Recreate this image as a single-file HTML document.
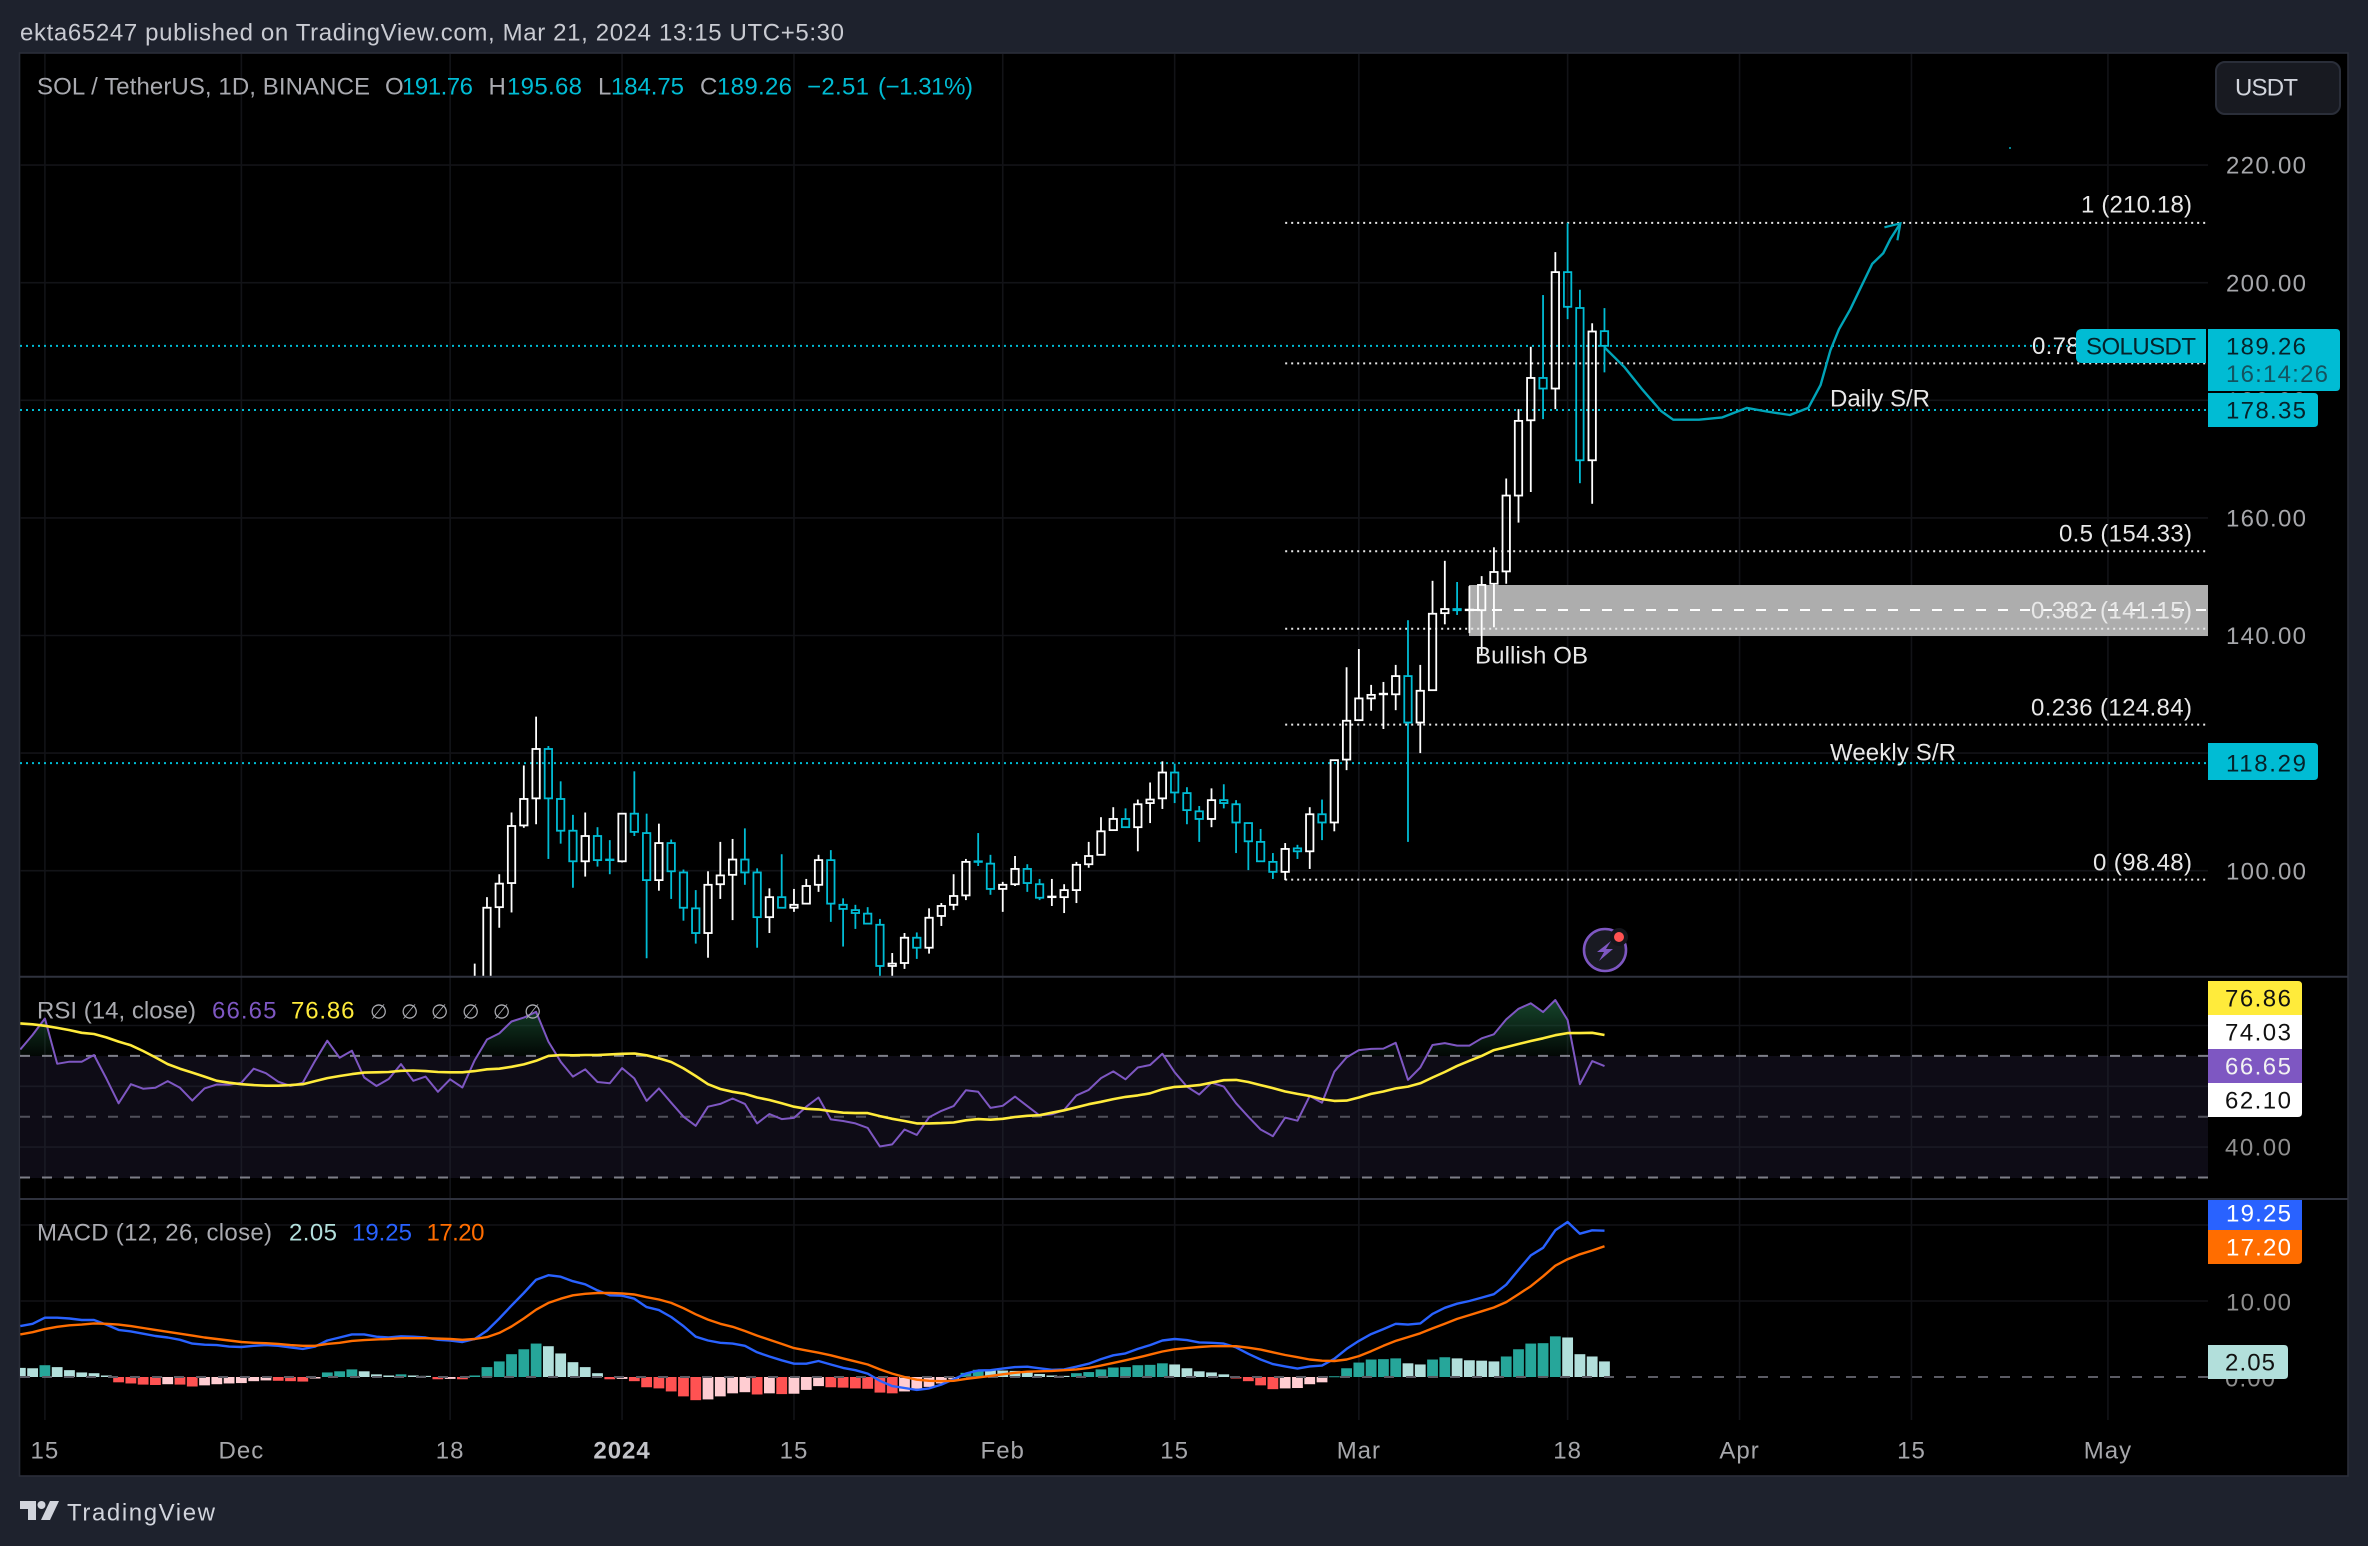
<!DOCTYPE html>
<html lang="en">
<head>
<meta charset="utf-8">
<title>SOL / TetherUS chart</title>
<style>
html,body{margin:0;padding:0;background:#1e222d;}
svg{display:block;}
text{font-family:"Liberation Sans",sans-serif;font-size:24px;}
</style>
</head>
<body>
<svg id="chart" xmlns="http://www.w3.org/2000/svg" width="2368" height="1546" viewBox="0 0 2368 1546">
  <defs>
    <clipPath id="price-clip"><rect x="20" y="54" width="2188" height="922"></rect></clipPath>
    <clipPath id="rsi-clip"><rect x="20" y="978" width="2188" height="220"></rect></clipPath>
    <clipPath id="macd-clip"><rect x="20" y="1200" width="2188" height="220"></rect></clipPath>
    <clipPath id="above-70"><rect x="20" y="978" width="2188" height="78"></rect></clipPath>
    <linearGradient id="ob-fill" gradientUnits="userSpaceOnUse" x1="0" y1="985" x2="0" y2="1056">
      <stop offset="0" stop-color="#1c5a38" stop-opacity="0.95"></stop>
      <stop offset="1" stop-color="#1c5a38" stop-opacity="0.08"></stop>
    </linearGradient>
  </defs>
  <rect x="0" y="0" width="2368" height="1546" fill="#1e222d"></rect>
  <rect x="19.5" y="53" width="2328.5" height="1423" fill="#000" stroke="#2a2e39" stroke-width="1.6"></rect>
  <text x="20" y="40.5" fill="#c9cbd2" textLength="824">ekta65247 published on TradingView.com, Mar 21, 2024 13:15 UTC+5:30</text>

  <g id="grid"></g>
  <rect x="20" y="1056" width="2188" height="122" fill="#0e0c16"></rect>
  <g id="grid-rsi"></g>
  <rect x="1469" y="585" width="739" height="51" fill="#adadad"></rect>
  <g id="levels"></g>
  <g id="candles" clip-path="url(#price-clip)"></g>
  <line x1="1470" y1="610" x2="2208" y2="610" stroke="#fff" stroke-width="2" stroke-dasharray="10 12"></line>
  <polyline id="projection" fill="none" stroke="#00a4b8" stroke-width="2.4" stroke-linejoin="round"></polyline>
  <polyline id="projection-head" fill="none" stroke="#00a4b8" stroke-width="2.2"></polyline>
  <rect x="2009" y="147" width="2" height="2" fill="#00808f"></rect>

  <text x="37" y="94.3" fill="#a9aab0" textLength="333">SOL / TetherUS, 1D, BINANCE</text>
  <text x="385" y="94.3" fill="#a9aab0">O</text>
  <text x="402" y="94.3" fill="#00bcd4" textLength="71">191.76</text>
  <text x="488.5" y="94.3" fill="#a9aab0">H</text>
  <text x="507" y="94.3" fill="#00bcd4" textLength="75">195.68</text>
  <text x="598" y="94.3" fill="#a9aab0">L</text>
  <text x="611" y="94.3" fill="#00bcd4" textLength="73">184.75</text>
  <text x="700" y="94.3" fill="#a9aab0">C</text>
  <text x="717" y="94.3" fill="#00bcd4" textLength="75">189.26</text>
  <text x="807" y="94.3" fill="#00bcd4" textLength="62">−2.51</text>
  <text x="878" y="94.3" fill="#00bcd4" textLength="95">(−1.31%)</text>

  <g>
    <rect x="2216" y="62" width="124" height="52" rx="9" fill="#181a21" stroke="#2a2e39" stroke-width="2"></rect>
    <text x="2235" y="95.6" fill="#d1d4dc" textLength="63">USDT</text>
  </g>

  <text x="1830" y="406.3" fill="#e8e8e8" textLength="100">Daily S/R</text>
  <text x="1830" y="760.6" fill="#e8e8e8" textLength="126">Weekly S/R</text>
  <text x="1475" y="663.6" fill="#e8e8e8" textLength="113">Bullish OB</text>
  <text x="2081" y="212.6" fill="#e8e8e8" textLength="111">1 (210.18)</text>
  <text x="2032" y="353.9" fill="#e8e8e8" textLength="160">0.786 (186.28)</text>
  <text x="2059" y="541.6" fill="#e8e8e8" textLength="133">0.5 (154.33)</text>
  <text x="2031" y="618.6" fill="#e8e8e8" textLength="161">0.382 (141.15)</text>
  <text x="2031" y="715.6" fill="#e8e8e8" textLength="161">0.236 (124.84)</text>
  <text x="2093" y="870.6" fill="#e8e8e8" textLength="99">0 (98.48)</text>

  <g id="price-axis"></g>
  <g>
    <path d="M2082 329H2206V363H2082Q2076 363 2076 357V335Q2076 329 2082 329Z" fill="#00bcd4"></path>
    <text x="2086" y="354.4" fill="#06222a" textLength="110">SOLUSDT</text>
    <path d="M2208 329H2336Q2340 329 2340 333V387Q2340 391 2336 391H2208Z" fill="#00bcd4"></path>
    <text x="2226" y="354.4" fill="#06222a" textLength="80">189.26</text>
    <text x="2226" y="382" fill="#14535f" textLength="102">16:14:26</text>
    <path d="M2208 393H2314Q2318 393 2318 397V423Q2318 427 2314 427H2208Z" fill="#00bcd4"></path>
    <text x="2226" y="418.4" fill="#06222a" textLength="80">178.35</text>
    <path d="M2208 743H2314Q2318 743 2318 747V776Q2318 780 2314 780H2208Z" fill="#00bcd4"></path>
    <text x="2226" y="771.6" fill="#06222a" textLength="80">118.29</text>
  </g>

  <g>
    <circle cx="1605" cy="950" r="21" fill="#191a22" stroke="#7e57c2" stroke-width="2.6"></circle>
    <polygon points="1611,941 1597,952 1604,952 1599,961 1613,949 1606,949" fill="#7e57c2"></polygon>
    <circle cx="1619" cy="937" r="9" fill="#14151b"></circle>
    <circle cx="1619" cy="937" r="5" fill="#ff5252"></circle>
  </g>

  <line x1="20" y1="976.7" x2="2348" y2="976.7" stroke="#2f323e" stroke-width="2"></line>
  <line x1="20" y1="1199" x2="2348" y2="1199" stroke="#2f323e" stroke-width="2"></line>

  <g id="rsi-pane"></g>
  <text x="37" y="1018.6" fill="#a9aab0" textLength="159">RSI (14, close)</text>
  <text x="212" y="1018.6" fill="#7e57c2" textLength="64.5">66.65</text>
  <text x="291" y="1018.6" fill="#ffeb3b" textLength="63.5">76.86</text>
  <g fill="#a9aab0">
    <text x="370" y="1018.6" style="font-family:'DejaVu Sans',sans-serif;font-size:20px">∅</text>
    <text x="401" y="1018.6" style="font-family:'DejaVu Sans',sans-serif;font-size:20px">∅</text>
    <text x="431" y="1018.6" style="font-family:'DejaVu Sans',sans-serif;font-size:20px">∅</text>
    <text x="462" y="1018.6" style="font-family:'DejaVu Sans',sans-serif;font-size:20px">∅</text>
    <text x="493" y="1018.6" style="font-family:'DejaVu Sans',sans-serif;font-size:20px">∅</text>
    <text x="524" y="1018.6" style="font-family:'DejaVu Sans',sans-serif;font-size:20px">∅</text>
  </g>
  <g>
    <text x="2225" y="1155.6" fill="#8f8f8f" textLength="66">40.00</text>
    <path d="M2208 981H2298Q2302 981 2302 985V1015H2208Z" fill="#ffeb3b"></path>
    <text x="2225" y="1006.6" fill="#111" textLength="66">76.86</text>
    <rect x="2208" y="1015" width="94" height="34" fill="#fff"></rect>
    <text x="2225" y="1040.6" fill="#111" textLength="66">74.03</text>
    <path d="M2208 1049H2302V1083H2208Z" fill="#7e57c2"></path>
    <text x="2225" y="1074.6" fill="#f2f2f2" textLength="66">66.65</text>
    <path d="M2208 1083H2302V1113Q2302 1117 2298 1117H2208Z" fill="#fff"></path>
    <text x="2225" y="1108.6" fill="#111" textLength="66">62.10</text>
  </g>

  <g id="macd-pane"></g>
  <text x="37" y="1240.3" fill="#a9aab0" textLength="235">MACD (12, 26, close)</text>
  <text x="289" y="1240.3" fill="#b2dfdb" textLength="48">2.05</text>
  <text x="352" y="1240.3" fill="#2962ff" textLength="60">19.25</text>
  <text x="426.5" y="1240.3" fill="#ff6d00" textLength="58">17.20</text>
  <g>
    <text x="2226" y="1310.3" fill="#8f8f8f" textLength="65">10.00</text>
    <text x="2225" y="1386.6" fill="#8f8f8f" textLength="50">0.00</text>
    <rect x="2208" y="1200" width="94" height="30" fill="#2962ff"></rect>
    <text x="2226" y="1221.3" fill="#fff" textLength="65">19.25</text>
    <path d="M2208 1230H2302V1260Q2302 1264 2298 1264H2208Z" fill="#ff6d00"></path>
    <text x="2226" y="1255.3" fill="#fff" textLength="65">17.20</text>
    <path d="M2208 1345H2284Q2288 1345 2288 1349V1375Q2288 1379 2284 1379H2208Z" fill="#b2dfdb"></path>
    <text x="2225" y="1370.6" fill="#111" textLength="50">2.05</text>
  </g>

  <g id="time-axis"></g>

  <g>
    <polygon points="20,1501 36,1501 36,1520 28,1520 28,1509 20,1509" fill="#d1d4dc"></polygon>
    <circle cx="41.5" cy="1505" r="4" fill="#d1d4dc"></circle>
    <polygon points="50,1501 59,1501 50,1520 41,1520" fill="#d1d4dc"></polygon>
    <text x="67" y="1520.5" fill="#d1d4dc" textLength="148">TradingView</text>
  </g>
</svg>

<script>
// ---- Candlestick data (first candle is at firstCandleDay, days counted from 15 Nov 2023) ----
const firstCandleDay = 35;
const opens = [78.6,78.1,93.8,97.9,107.7,112.3,120.7,112.2,106.8,101.6,105.9,101.9,101.6,109.7,106.4,98.4,104.7,99.7,93.6,89.4,97.7,99.3,101.9,99.7,92.1,95.5,93.7,94.4,97.6,101.8,94.2,93.3,92.7,90.8,83.8,84.3,88.6,86.9,92.3,94.2,95.8,101.6,101.2,96.9,97.7,100.3,97.7,95.5,95.5,96.7,101.1,102.7,106.9,108.8,107.4,111.5,112.3,116.7,113.2,110.1,108.8,112.0,111.3,108.1,104.9,101.5,99.8,103.8,103.3,109.6,108.2,118.9,125.6,129.3,130.0,130.0,133.1,125.2,130.7,143.8,144.5,144.3,144.3,148.8,150.9,163.8,176.6,183.8,182.0,201.8,195.7,169.8,191.76];
const highs = [84.2,95.5,99.4,109.9,117.9,126.2,121.2,115.2,109.5,109.9,107.4,105.2,109.7,116.9,109.7,108.0,105.3,100.2,96.7,99.9,104.9,105.4,107.2,100.4,97.0,102.8,96.9,98.6,102.7,103.5,95.3,94.2,93.8,91.8,86.0,89.4,89.5,93.6,94.5,99.4,102.0,106.4,102.7,98.1,102.5,101.1,98.6,98.6,97.7,101.5,104.9,109.1,110.8,110.6,112.1,115.0,118.6,118.2,114.2,111.0,114.0,114.7,112.0,108.1,107.1,103.0,104.7,104.4,110.8,112.1,118.8,134.6,137.7,131.6,132.1,135.0,142.6,135.0,149.3,152.7,149.1,148.4,150.1,155.0,166.7,178.5,189.1,197.9,205.2,210.2,198.8,193.1,195.68];
const lows = [75.8,75.8,90.3,92.9,107.3,107.9,102.0,104.6,97.1,99.0,100.7,99.4,101.4,105.9,85.1,96.6,95.2,91.5,87.6,85.2,95.2,91.6,97.6,86.9,89.4,93.7,93.0,94.4,96.4,91.3,87.1,90.1,91.0,81.5,81.5,83.3,85.0,85.9,90.6,93.3,95.0,100.8,95.9,93.0,97.4,96.4,95.0,94.0,92.8,94.5,100.5,102.7,106.9,107.4,103.3,108.1,110.5,111.5,107.9,104.9,107.4,110.6,103.0,100.1,101.6,98.6,98.4,102.0,100.3,105.2,106.7,117.1,125.6,127.2,124.1,127.3,104.9,120.0,130.7,141.9,143.5,140.4,136.7,141.4,148.8,159.2,164.4,176.8,178.5,193.8,165.9,162.4,184.75];
const closes = [81.5,93.7,97.8,107.6,112.2,120.7,112.3,106.8,101.6,105.9,101.8,101.8,109.7,106.6,98.4,104.7,99.9,93.7,89.4,97.6,99.2,101.9,99.7,92.1,95.5,93.7,94.2,97.4,101.8,94.4,93.5,92.8,91.0,83.8,84.2,88.6,86.9,92.0,94.0,95.7,101.5,101.5,96.9,97.6,100.3,97.9,95.4,95.6,96.7,101.0,102.5,106.7,108.8,107.4,111.3,112.1,116.7,113.3,110.3,108.8,112.0,111.5,108.2,105.0,101.6,99.8,103.7,103.3,109.6,108.2,118.8,125.5,129.3,129.9,130.1,133.1,125.2,130.6,143.7,144.5,144.3,144.4,148.6,150.8,163.8,176.5,183.8,182.0,201.8,195.9,169.8,191.7,189.26];

// ---- RSI and MACD data (first value is at indicatorStartDay) ----
const indicatorStartDay = -2;
const rsiValues = [72.1,76.9,82.3,67.4,68.1,68.1,70.3,62.6,54.4,60.7,59.2,59.5,61.7,59.5,55.3,59.3,60.6,60.5,61.2,65.8,64.3,61.5,60.1,61.2,68.4,75.0,69.4,71.7,62.9,60.1,62.4,67.3,61.8,63.2,58.2,62.3,59.6,68.6,75.4,77.4,81.3,82.6,84.5,74.7,68.1,63.2,65.6,61.4,61.0,66.0,62.6,55.2,59.3,54.6,50.0,47.0,53.3,54.2,56.0,54.2,47.8,50.9,49.2,49.6,53.3,56.3,49.1,48.6,47.8,46.3,40.2,40.9,45.8,44.0,49.8,51.9,53.5,58.7,58.2,52.9,53.6,56.6,53.5,50.4,50.8,52.2,57.0,58.8,62.7,64.9,62.3,66.2,67.0,70.7,64.6,59.9,57.3,61.2,59.9,54.4,50.0,45.8,43.6,49.7,48.7,56.8,54.6,64.8,69.5,71.9,72.3,72.4,74.3,62.1,66.2,73.6,74.2,73.4,73.4,75.8,77.1,82.0,85.5,87.3,84.4,88.4,81.8,60.7,68.3,66.65];
const rsiMaValues = [80.7,80.4,79.9,79.2,78.5,77.6,77.2,76.1,74.7,73.5,71.6,69.5,67.3,65.8,64.5,63.2,61.8,61.2,60.7,60.4,60.2,60.2,60.4,60.7,61.7,62.7,63.4,64.0,64.5,64.6,64.7,65.1,65.2,65.0,64.7,64.6,64.6,65.0,65.6,65.8,66.4,67.2,68.4,70.0,70.3,70.2,70.3,70.3,70.5,70.7,70.8,70.2,69.2,68.0,65.9,63.4,60.7,59.1,58.2,57.5,56.3,55.5,54.4,53.3,52.6,52.4,51.8,51.3,51.2,51.2,50.2,49.3,48.6,47.8,47.8,47.9,48.1,48.8,49.2,49.0,49.3,49.9,50.3,50.5,51.3,52.1,53.1,54.1,54.9,55.8,56.5,57.0,57.7,59.0,59.8,60.0,60.4,61.2,62.0,62.1,61.4,60.4,59.4,58.3,57.5,56.8,55.8,55.2,55.3,56.3,57.5,58.3,59.3,59.9,61.0,62.9,64.7,66.7,68.4,70.0,71.9,72.9,73.9,74.9,75.8,76.8,77.5,77.5,77.6,76.86];
const macdValues = [6.7,7.0,7.8,7.8,7.7,7.5,7.5,6.9,6.2,6.0,5.7,5.4,5.2,4.9,4.4,4.25,4.2,4.0,3.95,4.1,4.2,4.1,3.9,3.7,4.0,4.8,5.2,5.6,5.6,5.3,5.2,5.35,5.3,5.2,4.9,4.8,4.6,5.0,6.1,7.7,9.4,11.05,12.8,13.4,13.2,12.6,12.2,11.4,10.75,10.7,10.3,9.2,8.8,7.9,6.7,5.3,4.8,4.5,4.4,4.1,3.25,2.7,2.2,1.75,1.75,2.1,1.65,1.2,0.9,0.45,-0.5,-1.2,-1.45,-1.7,-1.5,-1.0,-0.3,0.45,0.85,0.9,1.1,1.3,1.35,1.15,0.95,1.0,1.35,1.75,2.35,2.85,3.1,3.7,4.2,4.8,5.0,4.85,4.55,4.5,4.4,3.9,3.05,2.3,1.7,1.4,1.1,1.4,1.5,2.4,3.7,4.75,5.65,6.3,7.0,6.9,7.05,8.3,9.1,9.65,10.0,10.45,10.9,12.15,14.1,16.0,17.0,19.3,20.4,18.85,19.3,19.25];
const signalValues = [5.6,5.9,6.3,6.6,6.8,6.9,7.05,7.0,6.9,6.7,6.45,6.2,5.95,5.7,5.45,5.2,5.0,4.8,4.6,4.5,4.45,4.35,4.2,4.1,4.1,4.35,4.5,4.75,4.85,4.95,5.0,5.1,5.1,5.1,5.05,5.0,4.9,5.0,5.25,5.8,6.65,7.7,8.85,9.75,10.3,10.75,10.95,11.05,11.05,11.0,10.85,10.5,10.2,9.75,9.05,8.25,7.55,7.0,6.6,6.05,5.45,4.9,4.35,3.8,3.5,3.2,2.85,2.45,2.05,1.65,1.0,0.45,0,-0.35,-0.5,-0.55,-0.5,-0.25,-0.05,0.15,0.35,0.55,0.7,0.75,0.8,0.9,1.0,1.2,1.5,1.85,2.2,2.55,2.95,3.35,3.65,3.8,3.95,4.05,4.05,4.05,3.85,3.6,3.25,2.9,2.6,2.3,2.15,2.1,2.3,2.75,3.4,4.1,4.75,5.25,5.75,6.4,7.0,7.65,8.15,8.65,9.15,9.85,10.9,11.95,13.25,14.65,15.5,16.15,16.65,17.2];
const histValues = [1.2,1.15,1.55,1.3,0.9,0.6,0.5,0.2,-0.7,-0.85,-1.0,-1.05,-0.95,-1.0,-1.25,-1.1,-0.95,-0.85,-0.8,-0.55,-0.45,-0.5,-0.55,-0.6,-0.2,0.6,0.75,1.0,0.75,0.35,0.2,0.35,0.2,0.15,-0.3,-0.25,-0.3,0.2,1.3,2.05,3.0,3.65,4.4,4.05,3.1,1.95,1.3,0.5,-0.3,-0.25,-0.55,-1.35,-1.5,-1.9,-2.55,-3.05,-2.95,-2.55,-2.15,-2.0,-2.3,-2.15,-2.25,-2.2,-1.7,-1.2,-1.35,-1.4,-1.5,-1.55,-2.05,-2.15,-1.9,-1.55,-1.3,-0.85,-0.3,0.55,0.95,0.9,0.85,0.8,0.6,0.4,0.2,0.15,0.5,0.65,1.0,1.25,1.3,1.55,1.6,1.8,1.65,1.15,0.75,0.6,0.35,-0.2,-0.55,-1.1,-1.6,-1.5,-1.45,-0.95,-0.7,0.1,1.15,1.9,2.3,2.35,2.45,1.8,1.65,2.3,2.6,2.45,2.2,2.15,2.05,2.7,3.65,4.4,4.45,5.35,5.2,3.0,2.7,2.05];

// ---- Axis ticks and labels ----
const gridDays = [0,16,33,47,61,78,92,107,124,138,152,168];
const timeLabels = ["15","Dec","18","2024","15","Feb","15","Mar","18","Apr","15","May"];
const priceGridTicks = [100,120,140,160,180,200,220];
const priceLabels = ["100.00","120.00","140.00","160.00","180.00","200.00","220.00"];
const rsiGridTicks = [80,60,40];
const rsiDashedLevels = [70,50,30];
const macdGridTicks = [20,10];

// ---- Horizontal levels ----
const srLevels = [189.26,178.35,118.29];
const fibLevels = [210.18,186.28,154.33,141.15,124.84,98.48];
const fibStartDay = 101;

// ---- Hand-drawn projection, as day and price ----
const projectionDays = [127,128.6,130.1,131.6,132.6,134.7,136.6,138.6,140.2,142.1,143.6,144.6,145.4,146.1,147,147.9,148.8,149.7,150.3,151.1];
const projectionPrices = [189,185.7,181.8,178.2,176.7,176.7,177.1,178.7,178.1,177.5,178.7,182.6,188.5,192.1,195.4,199.3,203.2,205,207.5,210.1];

// ---- Axis functions ----
function xDay(d){ return 44.9 + 12.28 * d; }
function yPrice(p){ return 870.7 - (p - 100) * 5.88; }
function yRsi(v){ return 1116.7 - (v - 50) * 3.04; }
function yMacd(v){ return 1377 - v * 7.6; }

const NS = "http://www.w3.org/2000/svg";
function make(tag, parent, attrs){
  const el = document.createElementNS(NS, tag);
  for (const k in attrs) el.setAttribute(k, attrs[k]);
  parent.appendChild(el);
  return el;
}
function linePoints(values, yFn){
  return values.map(function(v, i){ return xDay(indicatorStartDay + i).toFixed(1) + "," + yFn(v).toFixed(1); }).join(" ");
}

// Grid
const gridG = document.getElementById("grid");
gridDays.forEach(function(d){
  const l = make("line", gridG, {x1:xDay(d), y1:54, x2:xDay(d), y2:1420, stroke:"#121317", "stroke-width":1.6});
  
  
});
priceGridTicks.forEach(function(p){
  const l = make("line", gridG, {x1:20, y1:yPrice(p), x2:2208, y2:yPrice(p), stroke:"#121317", "stroke-width":1.6});
  
  
});
macdGridTicks.forEach(function(v){
  const l = make("line", gridG, {x1:20, y1:yMacd(v), x2:2208, y2:yMacd(v), stroke:"#121317", "stroke-width":1.6});
  
  
});
const gridRsi = document.getElementById("grid-rsi");
gridDays.forEach(function(d){
  const l = make("line", gridRsi, {x1:xDay(d), y1:1056, x2:xDay(d), y2:1178, stroke:"#1a1a24", "stroke-width":1.6});
  
  
});
rsiGridTicks.forEach(function(v){
  const l = make("line", gridRsi, {x1:20, y1:yRsi(v), x2:2208, y2:yRsi(v), stroke: v > 70 ? "#121317" : "#1a1a24", "stroke-width":1.6});
  
  
});

// Level lines
const levelsG = document.getElementById("levels");
srLevels.forEach(function(p){
  const l = make("line", levelsG, {x1:20, y1:yPrice(p), x2:2208, y2:yPrice(p), stroke:"#00bcd4", "stroke-width":2, "stroke-dasharray":"2 4"});
  
  
});
fibLevels.forEach(function(p){
  const l = make("line", levelsG, {x1:xDay(fibStartDay), y1:yPrice(p), x2:2206, y2:yPrice(p), stroke:"#e8e8e8", "stroke-width":2, "stroke-dasharray":"2 4"});
  
  
});

// Candles
const candleG = document.getElementById("candles");
opens.forEach(function(o, i){
  const c = closes[i], h = highs[i], lo = lows[i];
  const x = xDay(firstCandleDay + i);
  const col = c >= o ? "#ffffff" : "#00bcd4";
  const topP = Math.max(o, c), botP = Math.min(o, c);
  const g = make("g", candleG, {stroke:col, fill:"none", "stroke-width":1.8});
  
  
  const bodyTop = yPrice(topP), bodyBot = yPrice(botP);
  const upper = make("line", g, {x1:x, x2:x, y1:yPrice(h), y2:bodyTop});
  
  
  const lower = make("line", g, {x1:x, x2:x, y1:bodyBot, y2:yPrice(lo)});
  
  
  const body = make("rect", g, {x:x - 3.7, y:bodyTop, width:7.4, height:Math.max(bodyBot - bodyTop, 0.5)});
  
  
});

// Projection
const projPts = projectionDays.map(function(d, i){ return [xDay(d), yPrice(projectionPrices[i])]; });
document.getElementById("projection").setAttribute("points", projPts.map(function(p){ return p[0].toFixed(1) + "," + p[1].toFixed(1); }).join(" "));
const tip = projPts[projPts.length - 1];
document.getElementById("projection-head").setAttribute("points", (tip[0]-16) + "," + (tip[1]+4) + " " + tip[0] + "," + tip[1] + " " + (tip[0]-3) + "," + (tip[1]+17));

// Price axis labels
const priceAxis = document.getElementById("price-axis");
priceGridTicks.forEach(function(p, i){
  const t = make("text", priceAxis, {x:2226, y:yPrice(p) + 8.6, fill:"#a6a7ab", textLength:80});
  
  
  t.textContent = priceLabels[i];
});

// RSI pane
const rsiG = document.getElementById("rsi-pane");
const rsiDays = rsiValues.map(function(v, i){ return xDay(indicatorStartDay + i); });
const areaPts = rsiDays[0].toFixed(1) + "," + yRsi(70) + " " + linePoints(rsiValues, yRsi) + " " + rsiDays[rsiDays.length - 1].toFixed(1) + "," + yRsi(70);
const rsiArea = make("polygon", rsiG, {points:areaPts, fill:"url(#ob-fill)", "clip-path":"url(#above-70)"});


rsiDashedLevels.forEach(function(v){
  const l = make("line", rsiG, {x1:20, y1:yRsi(v), x2:2208, y2:yRsi(v), stroke: v === 50 ? "#50505a" : "#7d7e88", "stroke-width":2, "stroke-dasharray":"10 12"});
  
  
});
const rsiLine = make("polyline", rsiG, {points:linePoints(rsiValues, yRsi), fill:"none", stroke:"#7e57c2", "stroke-width":2, "stroke-linejoin":"round", "clip-path":"url(#rsi-clip)"});


const rsiMa = make("polyline", rsiG, {points:linePoints(rsiMaValues, yRsi), fill:"none", stroke:"#ffeb3b", "stroke-width":2.6, "stroke-linejoin":"round", "clip-path":"url(#rsi-clip)"});



// MACD pane
const macdG = document.getElementById("macd-pane");
const barGroup = make("g", macdG, {"clip-path":"url(#macd-clip)"});


histValues.forEach(function(v, i){
  const prev = i > 0 ? histValues[i - 1] : v + 1;
  let col;
  if (v >= 0) col = v > prev ? "#26a69a" : "#b2dfdb";
  else col = v < prev ? "#ff5252" : "#ffcdd2";
  const y0 = yMacd(0), yv = yMacd(v);
  const bar = make("rect", barGroup, {x:xDay(indicatorStartDay + i) - 5.4, y:Math.min(y0, yv), width:10.8, height:Math.max(Math.abs(yv - y0), 1), fill:col});
  
  
});
const zero = make("line", macdG, {x1:20, y1:yMacd(0), x2:2208, y2:yMacd(0), stroke:"#5b5b64", "stroke-width":2, "stroke-dasharray":"10 12"});


const macdLine = make("polyline", macdG, {points:linePoints(macdValues, yMacd), fill:"none", stroke:"#2962ff", "stroke-width":2.4, "stroke-linejoin":"round", "clip-path":"url(#macd-clip)"});


const signalLine = make("polyline", macdG, {points:linePoints(signalValues, yMacd), fill:"none", stroke:"#ff6d00", "stroke-width":2.4, "stroke-linejoin":"round", "clip-path":"url(#macd-clip)"});



// Time axis
const timeAxis = document.getElementById("time-axis");
gridDays.forEach(function(d, i){
  const label = timeLabels[i];
  const isYear = label === "2024";
  const t = make("text", timeAxis, {x:xDay(d), y:1458.6, fill:isYear ? "#c2c3c8" : "#a6a7ab", "text-anchor":"middle"});
  
  
  t.style.letterSpacing = "1px";
  if (isYear) t.style.fontWeight = "bold";
  t.textContent = label;
});
</script>
</body>
</html>
